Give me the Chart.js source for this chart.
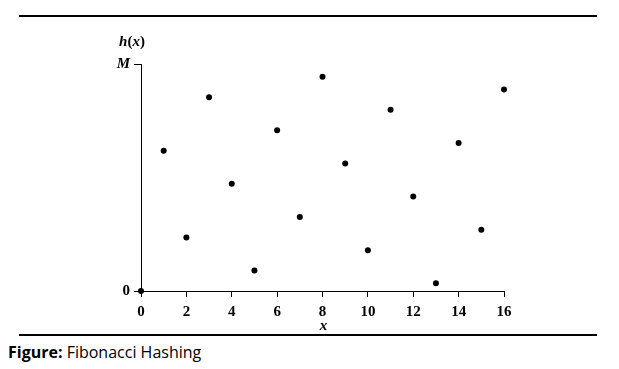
<!DOCTYPE html>
<html>
<head>
<meta charset="utf-8">
<script src="https://cdn.jsdelivr.net/npm/chart.js@4"></script>
<style>
  body { margin: 0; background: #fff; width: 619px; height: 369px; overflow: hidden; position: relative; }
  .rule { position: absolute; left: 19px; width: 578px; height: 2px; background: #000; }
  #chart { position: absolute; left: 0; top: 0; }
  #caption { position: absolute; left: 8px; top: 341px; font-family: "Open Sans", sans-serif; font-size: 16px; color: #000; white-space: nowrap; }
</style>
</head>
<body>
<div class="rule" style="top:15px"></div>
<canvas id="chart" width="619" height="332"></canvas>
<div class="rule" style="top:334px"></div>
<div id="caption"><b>Figure:</b> Fibonacci Hashing</div>
<script>
// keys x = 0..16, hash value as a fraction of M
const keys = [0, 1, 2, 3, 4, 5, 6, 7, 8, 9, 10, 11, 12, 13, 14, 15, 16];
const hashes = [0, 0.618, 0.236, 0.854, 0.472, 0.09, 0.708, 0.326, 0.944, 0.562, 0.18, 0.798, 0.416, 0.034, 0.652, 0.27, 0.888];
const xTicks = [0, 2, 4, 6, 8, 10, 12, 14, 16];
const yTicks = [0, 1];
const yTickLabels = ['0', 'M'];

const serif = '"Liberation Serif", "DejaVu Serif", serif';

// draws the axis names h(x) and x, italic letters with upright brackets
const axisNames = {
  id: 'axisNames',
  afterDraw(chart) {
    const ctx = chart.ctx;
    const a = chart.chartArea;
    const it = 'bold italic 15px ' + serif;
    const up = 'bold 15px ' + serif;
    const parts = [['h', it], ['(', up], ['x', it], [')', up]];
    ctx.save();
    ctx.fillStyle = '#000';
    ctx.textBaseline = 'middle';
    let w = 0;
    parts.forEach(p => { ctx.font = p[1]; w += ctx.measureText(p[0]).width; });
    let x = a.left - 9 - w / 2;
    ctx.textAlign = 'left';
    parts.forEach(p => { ctx.font = p[1]; ctx.fillText(p[0], x, a.top - 22); x += ctx.measureText(p[0]).width; });
    ctx.textAlign = 'center';
    ctx.font = it;
    ctx.fillText('x', (a.left + a.right) / 2 + 1, a.bottom + 35);
    ctx.restore();
  }
};

new Chart(document.getElementById('chart'), {
  type: 'scatter',
  data: {
    datasets: [{
      data: keys.map((k, i) => ({ x: k, y: hashes[i] })),
      backgroundColor: '#000',
      borderColor: '#000',
      pointRadius: 3,
      pointHoverRadius: 3,
      pointBorderWidth: 0,
      clip: false
    }]
  },
  options: {
    responsive: false,
    animation: false,
    layout: { padding: { top: 64, right: 115, left: 0, bottom: 0 } },
    plugins: { legend: { display: false }, tooltip: { enabled: false } },
    scales: {
      x: {
        type: 'linear',
        min: 0,
        max: 16,
        afterBuildTicks(s) { s.ticks = xTicks.map(v => ({ value: v })); },
        afterFit(s) { s.height = 41; },
        border: { display: true, color: '#000', width: 1 },
        grid: { display: true, drawOnChartArea: false, drawTicks: true, tickLength: 6, color: '#000' },
        ticks: { color: '#000', font: { family: serif, size: 15, weight: 'bold' }, padding: 6, maxRotation: 0 }
      },
      y: {
        type: 'linear',
        min: 0,
        max: 1,
        afterBuildTicks(s) { s.ticks = yTicks.map(v => ({ value: v })); },
        afterFit(s) { s.width = 141; },
        border: { display: true, color: '#000', width: 1 },
        grid: { display: true, drawOnChartArea: false, drawTicks: true, tickLength: 7, color: '#000' },
        ticks: {
          color: '#000',
          padding: 4,
          callback: (v) => yTickLabels[yTicks.indexOf(v)],
          font: (c) => ({ family: serif, size: 15, weight: 'bold', style: c.tick && c.tick.value === 1 ? 'italic' : 'normal' })
        }
      }
    }
  },
  plugins: [axisNames]
});
</script>
</body>
</html>
